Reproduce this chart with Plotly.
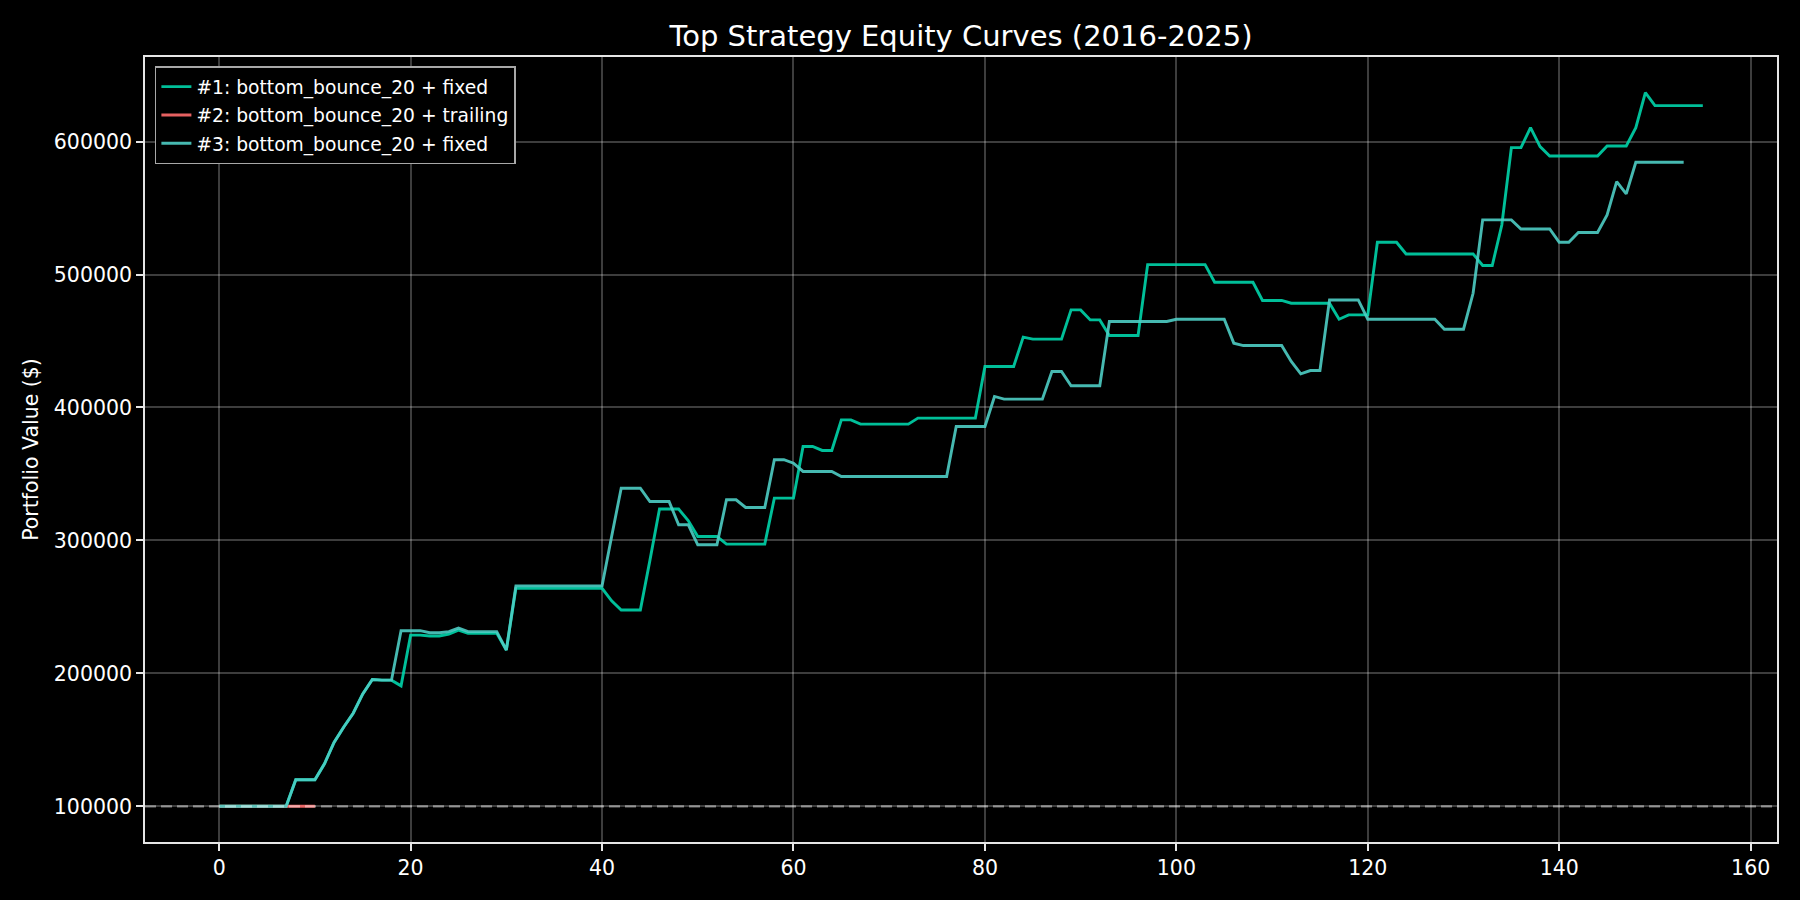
import plotly.graph_objects as go

# ---------------- data ----------------
INITIAL_CAPITAL = 100000

labels = [
    "#1: bottom_bounce_20 + fixed",
    "#2: bottom_bounce_20 + trailing",
    "#3: bottom_bounce_20 + fixed",
]

equity_1 = [
    100000, 100000, 100000, 100000, 100000, 100000, 100000, 100000,
    120000, 120000, 120000, 132000, 148000, 159500, 170000, 184500,
    195400, 194900, 194900, 190600, 228800, 228800, 228100, 228100,
    229600, 232600, 230100, 230100, 230100, 230100, 217600, 264000,
    264000, 264000, 264000, 264000, 264000, 264000, 264000, 264000,
    264000, 254600, 247700, 247700, 247700, 285000, 323600, 323600,
    323600, 315000, 303000, 303000, 303000, 297200, 297200, 297200,
    297200, 297200, 331800, 331800, 331800, 370700, 370700, 367700,
    367700, 390700, 390700, 387500, 387500, 387500, 387500, 387500,
    387500, 392000, 392000, 392000, 392000, 392000, 392000, 392000,
    430800, 430800, 430800, 430800, 452900, 451400, 451400, 451400,
    451400, 473400, 473400, 465900, 465900, 454200, 454200, 454200,
    454200, 507500, 507500, 507500, 507500, 507500, 507500, 507500,
    494200, 494200, 494200, 494200, 494200, 480500, 480500, 480500,
    478400, 478400, 478400, 478400, 478400, 466400, 469700, 469700,
    469700, 524300, 524300, 524300, 515500, 515500, 515500, 515500,
    515500, 515500, 515500, 515500, 506800, 506800, 537300, 595500,
    595500, 610500, 596200, 589200, 589200, 589200, 589200, 589200,
    589200, 596700, 596700, 596700, 610500, 636800, 627100, 627100,
    627100, 627100, 627100, 627100,
]

equity_2 = [100000] * 11

equity_3 = [
    100000, 100000, 100000, 100000, 100000, 100000, 100000, 100000,
    120000, 120000, 120000, 132000, 148000, 159500, 170000, 184500,
    195400, 194900, 194900, 232100, 232100, 232100, 230600, 230600,
    231400, 234100, 231400, 231400, 231400, 231400, 217600, 265800,
    265800, 265800, 265800, 265800, 265800, 265800, 265800, 265800,
    265800, 303000, 339300, 339300, 339300, 329300, 329300, 329300,
    311800, 311800, 296700, 296700, 296700, 330600, 330600, 324800,
    324800, 324800, 360700, 360700, 358100, 351900, 351900, 351900,
    351900, 348100, 348100, 348100, 348100, 348100, 348100, 348100,
    348100, 348100, 348100, 348100, 348100, 385700, 385700, 385700,
    385700, 408300, 406300, 406300, 406300, 406300, 406300, 427100,
    427100, 416300, 416300, 416300, 416300, 464700, 464700, 464700,
    464700, 464700, 464700, 464700, 466400, 466400, 466400, 466400,
    466400, 466400, 448400, 446600, 446600, 446600, 446600, 446600,
    434600, 425300, 427800, 427800, 480900, 480900, 480900, 480900,
    466400, 466400, 466400, 466400, 466400, 466400, 466400, 466400,
    458900, 458900, 458900, 485900, 541100, 541100, 541100, 541100,
    534300, 534300, 534300, 534300, 524300, 524300, 531600, 531600,
    531600, 544900, 569900, 560700, 584500, 584500, 584500, 584500,
    584500, 584500,
]

series = [equity_1, equity_2, equity_3]
colors = ["rgba(0,212,170,0.9)", "rgba(255,107,107,0.9)", "rgba(78,205,196,0.9)"]

x_ticks = [0, 20, 40, 60, 80, 100, 120, 140, 160]
y_ticks = [100000, 200000, 300000, 400000, 500000, 600000]

# ---------------- figure ----------------
FONT = "DejaVu Sans"
fig = go.Figure()
for i, (vals, lab, col) in enumerate(zip(series, labels, colors)):
    fig.add_trace(go.Scatter(
        x=list(range(len(vals))), y=vals, mode="lines", name=lab,
        line=dict(color=col, width=2.9), legendgroup=f"g{i}",
    ))

fig.add_shape(
    type="line", xref="paper", x0=0, x1=1, yref="y",
    y0=INITIAL_CAPITAL, y1=INITIAL_CAPITAL,
    line=dict(color="rgba(255,255,255,0.45)", width=2.2, dash="11px,5px"),
    layer="above",
)

# axis ranges with 5% margins like matplotlib
n_max = max(len(s) for s in series) - 1
x_pad = n_max * 0.05
all_vals = [v for s in series for v in s]
y_lo, y_hi = min(all_vals), max(all_vals)
y_pad = (y_hi - y_lo) * 0.05

axis_common = dict(
    showline=True, linecolor="#e6e6e6", linewidth=1.6, mirror=True,
    ticks="outside", ticklen=7, tickwidth=1.6, tickcolor="#e6e6e6",
    showgrid=True, gridcolor="rgba(255,255,255,0.24)", gridwidth=1.5,
    zeroline=False, tickfont=dict(family=FONT, size=20.5, color="white"),
)

fig.update_xaxes(range=[-x_pad, n_max + x_pad], tickvals=x_ticks,
                 ticktext=[str(t) for t in x_ticks], **axis_common)
fig.update_yaxes(range=[y_lo - y_pad, y_hi + y_pad], tickvals=y_ticks,
                 ticktext=[str(t) for t in y_ticks],
                 title=dict(text="Portfolio Value ($)", standoff=10,
                            font=dict(family=FONT, size=20.5, color="white")),
                 **axis_common)

fig.update_layout(
    width=1800, height=900,
    paper_bgcolor="black", plot_bgcolor="black",
    margin=dict(l=145, r=23, t=57, b=58, autoexpand=False),
    title=dict(text="Top Strategy Equity Curves (2016-2025)", x=0.5, xref="paper",
               y=1 - 35.6 / 900, yref="container", xanchor="center", yanchor="middle",
               font=dict(family=FONT, size=29, color="white")),
    font=dict(family=FONT, color="white"),
    legend=dict(x=0.006, y=0.988, xanchor="left", yanchor="top",
                bgcolor="black", bordercolor="#a8a8a8", borderwidth=1.6,
                font=dict(family=FONT, size=18.7, color="white"),
                traceorder="grouped", tracegroupgap=1),
    showlegend=True,
)

fig.write_html(
    "out.html",
    config={"displayModeBar": False},
    post_script="document.body.style.margin='0';document.body.style.background='black';"
                "document.body.style.overflow='hidden';",
)
